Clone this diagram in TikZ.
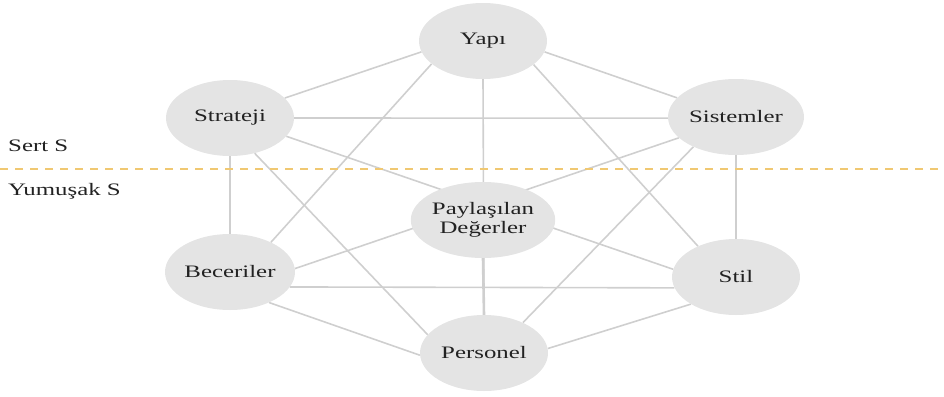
\documentclass[tikz,border=0pt]{standalone}
\usepackage{fontspec}
\setmainfont{Liberation Serif}[FakeStretch=1.42]
\usetikzlibrary{shapes.geometric,backgrounds}
\definecolor{nodefill}{HTML}{E4E4E4}
\definecolor{linegray}{HTML}{CFCFCF}
\definecolor{dashorange}{HTML}{F0C872}
\definecolor{txt}{HTML}{222222}
\begin{document}
\begin{tikzpicture}[x=1pt,y=-1pt,
  sbox/.style={ellipse,fill=nodefill,draw=none,inner sep=0pt,minimum width=128pt,minimum height=76pt,
    text=txt,font=\fontsize{17.5}{19}\selectfont,align=center},
  lab/.style={anchor=base west,inner sep=0pt,text=txt,font=\fontsize{17.5}{19}\selectfont},
  conn/.style={draw=linegray,line width=1.6pt},
  sep/.style={draw=dashorange,line width=1.8pt,dash pattern=on 8pt off 7pt}]
\useasboundingbox (0,0) rectangle (944,396);
\node[sbox] (yapi) at (483,41) {Yapı};
\node[sbox] (strateji) at (230,118) {Strateji};
\node[sbox,minimum width=136pt] (sistemler) at (736,117) {Sistemler};
\node[sbox,minimum width=130pt] (degerler) at (483,220) {Paylaşılan\\Değerler};
\node[sbox,minimum width=130pt] (beceriler) at (230,272) {Beceriler};
\node[sbox] (stil) at (736,277) {Stil};
\node[sbox] (personel) at (484,353) {Personel};
\node[lab] (sert) at (8,151) {Sert S};
\node[lab] (yumusak) at (8,195) {Yumuşak S};
\coordinate (dl) at (0,169);
\coordinate (dr) at (944,169);
\begin{pgfonlayer}{background}
\draw[conn] (yapi.190) -- (strateji.20);
\draw[conn] (strateji.0) -- (sistemler.181);
\draw[conn] (strateji.342) -- (stil.173);
\draw[conn] (strateji.270) -- (beceriler.90);
\draw[conn] (strateji.305) -- (personel.162);
\draw[conn] (yapi.204) -- (beceriler.36);
\draw[conn] (yapi.335) -- (stil.141);
\draw[conn] (yapi.350) -- (sistemler.162);
\draw[conn] (yapi.270) -- (personel.90);
\draw[conn,line width=2.6pt] (degerler.270) -- (personel.90);
\draw[conn] (sistemler.200) -- (beceriler.3);
\draw[conn] (sistemler.270) -- (stil.90);
\draw[conn] (sistemler.215) -- (personel.38);
\draw[conn] (beceriler.346) -- (stil.190);
\draw[conn] (beceriler.322) -- (personel.182);
\draw[conn] (stil.211) -- (personel.4);
\end{pgfonlayer}
\draw[sep] (dl) -- (dr);
\end{tikzpicture}
\end{document}
